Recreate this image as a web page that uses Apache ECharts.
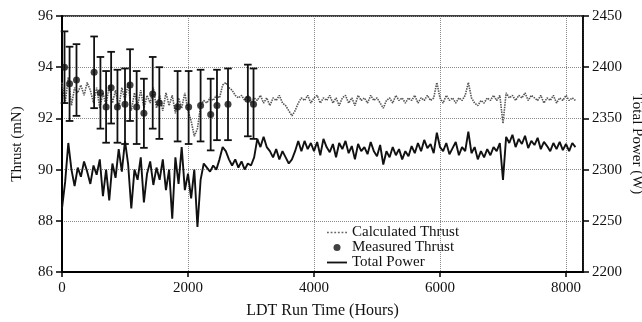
<!DOCTYPE html>
<html>
<head>
<meta charset="utf-8">
<script src="https://cdn.jsdelivr.net/npm/echarts@6/dist/echarts.min.js"></script>
<style>
  html, body { margin: 0; padding: 0; background: #fff; }
  #chart { width: 642px; height: 322px; }
</style>
</head>
<body>
<div id="chart"></div>
<script>
// Logged samples: one every 50 hours of run time, starting at hour 0.
const SAMPLE_STEP_HOURS = 50;

// Total power (W), right axis
const powerW = [
  2262,2288,2326,2300,2284,2302,2293,2308,2298,2286,
  2304,2295,2310,2274,2300,2270,2306,2292,2320,2298,
  2328,2305,2262,2300,2290,2312,2268,2296,2308,2285,
  2302,2290,2310,2280,2300,2252,2312,2286,2322,2280,
  2296,2272,2300,2244,2290,2306,2302,2298,2304,2300,
  2310,2322,2318,2310,2304,2310,2302,2308,2300,2306,
  2304,2312,2330,2322,2332,2322,2318,2312,2320,2310,
  2318,2312,2306,2310,2318,2328,2318,2328,2320,2326,
  2318,2327,2314,2330,2322,2317,2325,2312,2326,2320,
  2328,2316,2323,2310,2325,2318,2322,2315,2327,2318,
  2313,2324,2305,2318,2312,2322,2314,2320,2310,2318,
  2313,2323,2316,2326,2318,2329,2321,2325,2316,2336,
  2322,2318,2326,2315,2321,2327,2314,2322,2318,2337,
  2316,2322,2310,2318,2312,2320,2314,2322,2318,2326,
  2290,2332,2326,2334,2322,2330,2325,2333,2321,2328,
  2324,2331,2320,2327,2323,2318,2326,2320,2327,2319,
  2325,2318,2326,2322
];

// Calculated thrust (mN), left axis
const calcThrust = [
  93.4,92.6,93.6,92.5,93.2,93.0,93.3,92.9,93.4,93.1,
  92.6,93.2,92.4,93.0,92.5,93.3,92.6,93.1,92.4,93.2,
  92.7,93.4,92.3,93.0,92.5,93.1,92.4,92.9,92.6,93.2,
  92.4,92.9,92.3,93.0,92.5,92.9,92.2,92.8,92.4,93.0,
  92.3,91.9,91.3,91.6,92.5,92.7,92.6,92.8,92.7,92.9,
  92.8,93.3,93.4,93.2,93.1,92.9,92.8,92.9,92.7,92.9,
  92.6,92.8,92.7,92.9,92.6,92.8,92.5,92.8,92.7,92.9,
  92.6,92.5,92.3,92.1,92.3,92.6,92.8,92.7,92.9,92.6,
  92.8,92.9,92.6,92.8,92.7,92.9,92.6,92.8,92.5,92.8,
  92.9,92.6,92.8,92.5,92.9,92.7,92.8,92.6,92.9,92.7,
  92.8,92.6,92.4,92.7,92.8,92.6,92.9,92.7,92.8,92.6,
  92.8,92.7,92.9,92.6,92.8,92.7,92.9,92.7,92.8,93.4,
  92.8,92.6,92.9,92.7,92.8,92.6,92.8,92.7,92.9,93.4,
  92.8,92.6,92.5,92.7,92.6,92.8,92.7,92.9,92.7,92.9,
  91.8,93.0,92.8,92.9,92.7,92.9,92.8,93.0,92.7,92.9,
  92.8,92.7,92.9,92.6,92.8,92.7,92.9,92.6,92.8,92.7,
  92.9,92.7,92.8,92.7
];

// Measured thrust (mN) with uncertainty range
const measuredHours  = [40,120,230,510,610,700,780,880,1000,1080,1185,1300,1440,1545,1835,2010,2200,2360,2460,2635,2950,3040];
const measuredThrust = [94.0,93.35,93.5,93.8,93.0,92.45,93.2,92.45,92.55,93.3,92.45,92.2,92.95,92.6,92.45,92.45,92.5,92.15,92.5,92.55,92.75,92.55];
const measuredLow    = [92.6,91.9,92.1,92.4,91.6,91.05,91.8,91.05,91.0,91.9,91.0,90.85,91.6,91.2,91.1,91.0,91.1,90.75,91.15,91.15,91.3,91.2];
const measuredHigh   = [95.4,94.8,94.9,95.2,94.4,93.85,94.6,93.9,93.95,94.7,93.85,93.55,94.4,94.0,93.85,93.85,93.9,93.55,93.9,93.95,94.1,93.95];

// Axis ranges and tick spacing
const hoursTicks  = [0, 2000, 4000, 6000, 8000];
const thrustTicks = [86, 88, 90, 92, 94, 96];
const powerTicks  = [2200, 2250, 2300, 2350, 2400, 2450];
const HOURS_MAX = 8270;

const FONT = "'Liberation Serif', 'DejaVu Serif', serif";

const powerData = powerW.map((p, i) => [i * SAMPLE_STEP_HOURS, p]);
const calcData  = calcThrust.map((t, i) => [i * SAMPLE_STEP_HOURS, t]);
const measData  = measuredHours.map((h, i) => [h, measuredThrust[i]]);
const rangeData = measuredHours.map((h, i) => [h, measuredLow[i], measuredHigh[i]]);

// Legend glyphs: a short dotted stroke and a short solid stroke
const DOTTED_ICON = 'path://M0,0h1.6v1.4h-1.6zM3.2,0h1.6v1.4h-1.6zM6.4,0h1.6v1.4h-1.6zM9.6,0h1.6v1.4h-1.6zM12.8,0h1.6v1.4h-1.6zM16,0h1.6v1.4h-1.6z';
const SOLID_ICON  = 'path://M0,0h17.6v1.6h-17.6z';

const chart = echarts.init(document.getElementById('chart'), null, { renderer: 'canvas' });

const axisText = { color: '#111', fontFamily: FONT, fontSize: 15 };

chart.setOption({
  animation: false,
  backgroundColor: '#fff',
  grid: {
    left: 62, right: 59, top: 16, bottom: 50,
    containLabel: false,
    outerBoundsMode: 'none',
    show: true, borderColor: '#000', borderWidth: 1.5, backgroundColor: 'transparent'
  },
  legend: {
    orient: 'vertical',
    left: 322, top: 220,
    itemWidth: 20, itemHeight: 7, itemGap: 0,
    textStyle: { fontFamily: FONT, fontSize: 15, color: '#111', lineHeight: 15 },
    data: [
      { name: 'Calculated Thrust', icon: DOTTED_ICON, itemStyle: { color: '#666' } },
      { name: 'Measured Thrust', icon: 'circle', itemStyle: { color: '#111' } },
      { name: 'Total Power', icon: SOLID_ICON, itemStyle: { color: '#111' } }
    ]
  },
  xAxis: {
    type: 'value',
    min: hoursTicks[0], max: HOURS_MAX,
    interval: hoursTicks[1] - hoursTicks[0],
    name: 'LDT Run Time (Hours)',
    nameLocation: 'middle', nameGap: 31, nameMoveOverlap: false,
    nameTextStyle: { fontFamily: FONT, fontSize: 16, color: '#111' },
    axisLine: { lineStyle: { color: '#000', width: 2 } },
    axisTick: { show: true, length: 5, lineStyle: { color: '#000', width: 1.5 } },
    axisLabel: Object.assign({ margin: 9, showMaxLabel: false,
      formatter: v => (hoursTicks.indexOf(v) >= 0 ? String(v) : '') }, axisText),
    splitLine: { show: true, lineStyle: { color: '#8a8a8a', type: 'dotted', width: 1 } }
  },
  yAxis: [
    {
      type: 'value',
      min: thrustTicks[0], max: thrustTicks[thrustTicks.length - 1],
      interval: thrustTicks[1] - thrustTicks[0],
      name: 'Thrust (mN)',
      nameLocation: 'middle', nameGap: 37, nameRotate: 90, nameMoveOverlap: false,
      nameTextStyle: { fontFamily: FONT, fontSize: 15, color: '#111' },
      axisLine: { show: true, lineStyle: { color: '#000', width: 2 } },
      axisTick: { show: true, length: 6, lineStyle: { color: '#000', width: 1.5 } },
      axisLabel: Object.assign({ margin: 9, formatter: v => String(v) }, axisText),
      splitLine: { show: true, lineStyle: { color: '#8a8a8a', type: 'dotted', width: 1 } }
    },
    {
      type: 'value',
      position: 'right',
      min: powerTicks[0], max: powerTicks[powerTicks.length - 1],
      interval: powerTicks[1] - powerTicks[0],
      name: 'Total Power (W)',
      nameLocation: 'middle', nameGap: 46, nameRotate: -90, nameMoveOverlap: false,
      nameTextStyle: { fontFamily: FONT, fontSize: 15, color: '#111' },
      axisLine: { show: true, lineStyle: { color: '#000', width: 1.5 } },
      axisTick: { show: true, length: 6, lineStyle: { color: '#000', width: 1.5 } },
      axisLabel: Object.assign({ margin: 9, formatter: v => String(v) }, axisText),
      splitLine: { show: false }
    }
  ],
  series: [
    {
      name: 'Calculated Thrust',
      type: 'line',
      yAxisIndex: 0,
      data: calcData,
      showSymbol: false, symbol: 'none',
      lineStyle: { color: '#555', width: 1.6, type: [1.5, 1] },
      itemStyle: { color: '#555' },
      z: 2
    },
    {
      name: 'Total Power',
      type: 'line',
      yAxisIndex: 1,
      data: powerData,
      showSymbol: false, symbol: 'none',
      lineStyle: { color: '#111', width: 1.9 },
      itemStyle: { color: '#111' },
      z: 3
    },
    {
      name: 'Measured Thrust range',
      type: 'custom',
      yAxisIndex: 0,
      data: rangeData,
      encode: { x: 0, y: [1, 2] },
      renderItem: function (params, api) {
        const x = api.value(0);
        const lo = api.coord([x, api.value(1)]);
        const hi = api.coord([x, api.value(2)]);
        const w = 3.8;
        const st = { stroke: '#111', lineWidth: 1.8 };
        return {
          type: 'group',
          children: [
            { type: 'line', shape: { x1: lo[0], y1: lo[1], x2: hi[0], y2: hi[1] }, style: st },
            { type: 'line', shape: { x1: lo[0] - w, y1: lo[1], x2: lo[0] + w, y2: lo[1] }, style: st },
            { type: 'line', shape: { x1: hi[0] - w, y1: hi[1], x2: hi[0] + w, y2: hi[1] }, style: st }
          ]
        };
      },
      z: 4
    },
    {
      name: 'Measured Thrust',
      type: 'scatter',
      yAxisIndex: 0,
      data: measData,
      symbol: 'circle', symbolSize: 7,
      itemStyle: { color: '#111' },
      z: 5
    }
  ]
});
</script>
</body>
</html>
